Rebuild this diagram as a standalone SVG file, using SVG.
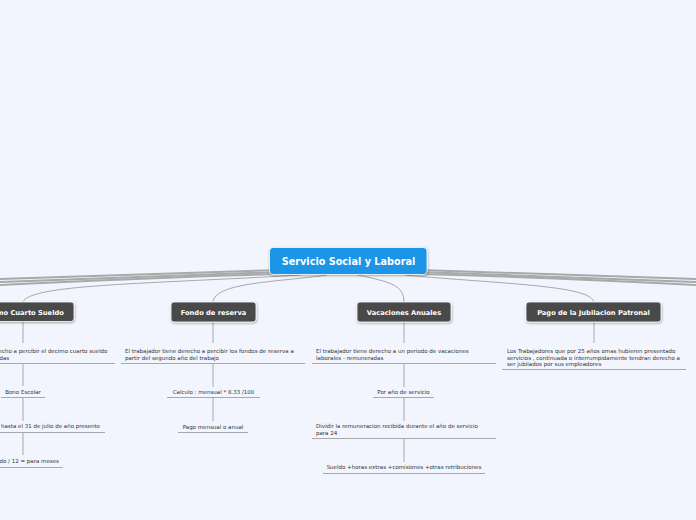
<svg xmlns="http://www.w3.org/2000/svg" width="696" height="520" viewBox="0 0 696 520">
<defs>
<style>
.bg{fill:#f2f5fd}
.band{fill:none;stroke:#a9a9a9;stroke-width:2;stroke-linecap:round}
.conn{fill:none;stroke:#a8a8a8;stroke-width:1}
.ul{fill:none;stroke:#a8a8a8;stroke-width:1.2}
.node{fill:#494949;stroke:#ffffff;stroke-width:0.8}
.root{fill:#1a95e6;stroke:#ffffff;stroke-width:0.8}
.nt{font-family:"DejaVu Sans",Verdana,sans-serif;font-weight:bold;font-size:6.7px;fill:#ffffff;text-anchor:middle}
.rt{font-family:"DejaVu Sans",Verdana,sans-serif;font-weight:bold;font-size:9.7px;fill:#ffffff;text-anchor:middle}
.st{font-family:"DejaVu Sans",Verdana,sans-serif;font-size:5.5px;fill:#333333}
.stc{font-family:"DejaVu Sans",Verdana,sans-serif;font-size:5.5px;fill:#333333;text-anchor:middle}
</style>
<filter id="sh" x="-10%" y="-20%" width="120%" height="150%">
<feDropShadow dx="0.5" dy="1" stdDeviation="0.8" flood-color="#000" flood-opacity="0.35"/>
</filter>
</defs>
<rect class="bg" x="0" y="0" width="696" height="520"/>

<g id="connectors">
<path class="band" d="M280 270 C 180 273, 80 276, 0 279"/>
<path class="band" d="M280 272 C 180 275, 80 279, 0 282"/>
<path class="band" d="M280 274 C 160 277, 60 282, 0 285"/>
<path class="band" d="M420 270 C 520 273, 620 276, 696 279"/>
<path class="band" d="M420 272 C 520 275, 620 279, 696 282"/>
<path class="band" d="M420 274 C 540 277, 640 282, 696 285"/>
<path class="conn" d="M300 275 C 150 284, 30 284, 23 302"/>
<path class="conn" d="M327 275 C 280 282, 215 282, 213 302"/>
<path class="conn" d="M358 275 C 390 282, 404 285, 404 302"/>
<path class="conn" d="M405 275 C 500 284, 590 285, 594 302"/>
<!-- Decimo column -->
<path class="conn" d="M23 321 V343 M23 363 V386 M23 397 V421 M23 432 V455"/>
<!-- Fondo column -->
<path class="conn" d="M213 322 V343 M213 363 V387 M213 397 V421"/>
<!-- Vacaciones column -->
<path class="conn" d="M404 322 V343 M404 363 V387 M404 397 V421 M404 438 V462"/>
<!-- Pago column -->
<path class="conn" d="M594 322 V343"/>
</g>

<g id="root">
<rect class="root" x="269.5" y="247.5" width="157.5" height="27" rx="3.5" filter="url(#sh)"/>
<text class="rt" x="348.5" y="264.5">Servicio Social y Laboral</text>
</g>

<g id="decimo">
<rect class="node" x="-30" y="302" width="104" height="19.5" rx="3" filter="url(#sh)"/>
<text class="nt" x="22" y="314.5">Decimo Cuarto Sueldo</text>
</g>
<g id="decimo-1">
<text class="st" x="-1.5" y="353">echo a percibir el decimo cuarto sueldo</text>
<text class="st" x="-0.5" y="359.5">das</text>
<path class="ul" d="M-69 363.5 H115"/>
</g>
<g id="decimo-2">
<text class="stc" x="23" y="393.5">Bono Escolar</text>
<path class="ul" d="M1 397.5 H45"/>
</g>
<g id="decimo-3">
<text class="st" x="1" y="428">hasta el 31 de julio de año presente</text>
<path class="ul" d="M-59 432.5 H105"/>
</g>
<g id="decimo-4">
<text class="st" x="-0.5" y="463">do / 12 = para meses</text>
<path class="ul" d="M-17 467.5 H63"/>
</g>

<g id="fondo">
<rect class="node" x="171" y="302" width="85" height="20" rx="3" filter="url(#sh)"/>
<text class="nt" x="213.5" y="314.5">Fondo de reserva</text>
</g>
<g id="fondo-1">
<text class="st" x="125" y="353">El trabajador tiene derecho a percibir los fondos de reserva a</text>
<text class="st" x="125" y="359.5">partir del segundo año del trabajo</text>
<path class="ul" d="M121 363.5 H305"/>
</g>
<g id="fondo-2">
<text class="stc" x="213.5" y="394">Calculo : mensual * 8.33 /100</text>
<path class="ul" d="M167 397.5 H260"/>
</g>
<g id="fondo-3">
<text class="stc" x="213" y="428.5">Pago mensual o anual</text>
<path class="ul" d="M178 432.5 H248"/>
</g>

<g id="vacaciones">
<rect class="node" x="357" y="302" width="94" height="20" rx="3" filter="url(#sh)"/>
<text class="nt" x="404" y="314.5">Vacaciones Anuales</text>
</g>
<g id="vacaciones-1">
<text class="st" x="316" y="353">El trabajador tiene derecho a un periodo de vacaciones</text>
<text class="st" x="316" y="359.5">laborales - remuneradas</text>
<path class="ul" d="M312 363.5 H496"/>
</g>
<g id="vacaciones-2">
<text class="stc" x="403.5" y="393.5">Por año de servicio</text>
<path class="ul" d="M373 397.5 H434"/>
</g>
<g id="vacaciones-3">
<text class="st" x="316" y="428">Dividir la remuneracion recibida durante el año de servicio</text>
<text class="st" x="316" y="434.5">para 24</text>
<path class="ul" d="M312 438.5 H496"/>
</g>
<g id="vacaciones-4">
<text class="stc" x="404" y="469">Sueldo +horas extras +comisiones +otras retribuciones</text>
<path class="ul" d="M323 473.5 H485"/>
</g>

<g id="pago">
<rect class="node" x="526" y="302" width="135" height="20" rx="3" filter="url(#sh)"/>
<text class="nt" x="593.5" y="314.5">Pago de la Jubilacion Patronal</text>
</g>
<g id="pago-1">
<text class="st" x="507" y="353">Los Trabajadores que por 25 años omas hubieren presentado</text>
<text class="st" x="507" y="359.5">servicios , continuada o interrumpidamente tendran derecho a</text>
<text class="st" x="507" y="366">ser jubilados por sus empleadores</text>
<path class="ul" d="M502 369.5 H686"/>
</g>
</svg>
